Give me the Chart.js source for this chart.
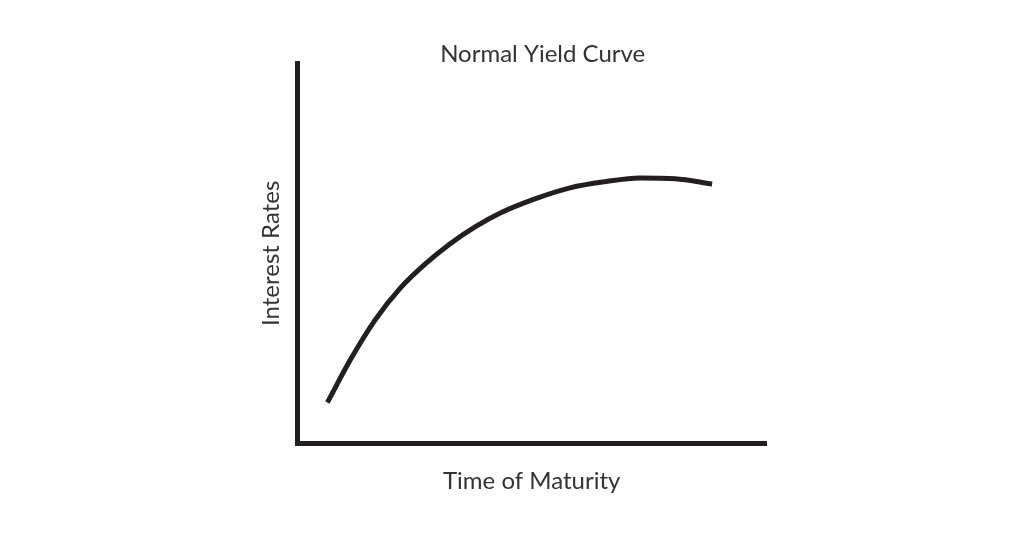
<!DOCTYPE html>
<html>
<head>
<meta charset="utf-8">
<script src="https://cdn.jsdelivr.net/npm/chart.js@4"></script>
<style>
  html, body { margin: 0; padding: 0; background: #fff; }
  #wrap { width: 1024px; height: 536px; }
</style>
</head>
<body>
<div id="wrap"><canvas id="yieldChart" width="1024" height="536"></canvas></div>
<script>
// Time to maturity (relative units, 0-100 across the x axis)
const maturity = [6.4, 11.3, 16.6, 22.0, 27.3, 32.6, 38.0, 43.3, 50.7, 58.2, 65.6, 73.1, 80.6, 88.5];
// Interest rate (relative units, 0-100 up the y axis)
const rates = [10.8, 22.0, 32.5, 40.9, 47.2, 52.5, 57.0, 60.6, 64.3, 67.2, 68.8, 69.8, 69.6, 68.2];

const ink = "#231f20";
const textColor = "#333333";
const fontFamily = "Lato, 'Open Sans', sans-serif";

const points = maturity.map((x, i) => ({ x, y: rates[i] }));

// the title in the picture sits a little right of the plot centre
const titleNudge = {
  id: "titleNudge",
  afterLayout(chart) {
    const t = chart.titleBlock;
    if (t) { t.left += 11; t.right += 11; }
  }
};

const ctx = document.getElementById("yieldChart").getContext("2d");

new Chart(ctx, {
  type: "line",
  data: {
    datasets: [{
      label: "Yield",
      data: points,
      borderColor: ink,
      borderWidth: 5,
      pointRadius: 0,
      fill: false,
      cubicInterpolationMode: "monotone"
    }]
  },
  options: {
    responsive: false,
    animation: false,
    layout: { padding: { left: 258, right: 258, top: 0, bottom: 42 } },
    plugins: {
      legend: { display: false },
      tooltip: { enabled: false },
      title: {
        display: true,
        text: "Normal Yield Curve",
        fullSize: false,
        color: textColor,
        font: { family: fontFamily, size: 24, weight: "normal", lineHeight: 0.75 },
        padding: { top: 45, bottom: 0 }
      }
    },
    scales: {
      x: {
        type: "linear",
        min: 0,
        max: 100,
        ticks: { display: false },
        grid: { display: false, drawTicks: false },
        border: { display: true, color: ink, width: 5 },
        title: {
          display: true,
          text: "Time of Maturity",
          color: textColor,
          font: { family: fontFamily, size: 24, lineHeight: 1.1 },
          padding: { top: 24, bottom: 0 }
        }
      },
      y: {
        min: 0,
        max: 100,
        ticks: { display: false },
        grid: { display: false, drawTicks: false },
        border: { display: true, color: ink, width: 5 },
        title: {
          display: true,
          text: "Interest Rates",
          color: textColor,
          font: { family: fontFamily, size: 24, lineHeight: 1.1 },
          padding: { top: 0, bottom: 13 }
        }
      }
    }
  },
  plugins: [titleNudge]
});
</script>
</body>
</html>
